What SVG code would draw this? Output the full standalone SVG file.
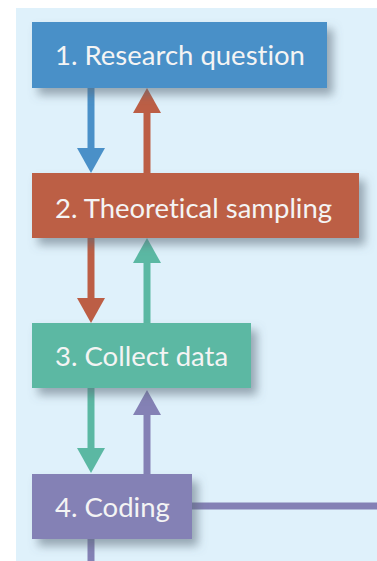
<svg xmlns="http://www.w3.org/2000/svg" width="377" height="561" viewBox="0 0 377 561">
<defs>
<filter id="sh" x="-20%" y="-30%" width="150%" height="180%">
<feDropShadow dx="6" dy="7" stdDeviation="5" flood-color="#5a6a78" flood-opacity="0.55"/>
</filter>
</defs>
<style>
.lbl{font-family:Lato,"Open Sans",sans-serif;font-size:27.5px;fill:#f4f4f4;font-variant-ligatures:none}
.ln{stroke-width:7;fill:none}
</style>
<rect x="0" y="0" width="377" height="561" fill="#ffffff"/>
<rect x="16" y="8" width="361" height="553" fill="#dff1fb"/>
<g id="connectors">
<line class="ln" x1="91" y1="88" x2="91" y2="150" stroke="#4a90c8"/>
<polygon points="77,148 105,148 91,173" fill="#4a90c8"/>
<line class="ln" x1="147" y1="173" x2="147" y2="110" stroke="#bc5e45"/>
<polygon points="133,113 161,113 147,88" fill="#bc5e45"/>
<line class="ln" x1="91" y1="238" x2="91" y2="300" stroke="#bc5e45"/>
<polygon points="77,298 105,298 91,323" fill="#bc5e45"/>
<line class="ln" x1="147" y1="323" x2="147" y2="260" stroke="#5bb8a3"/>
<polygon points="133,263 161,263 147,238" fill="#5bb8a3"/>
<line class="ln" x1="91" y1="388" x2="91" y2="450" stroke="#5bb8a3"/>
<polygon points="77,448 105,448 91,473" fill="#5bb8a3"/>
<line class="ln" x1="147" y1="474" x2="147" y2="412" stroke="#8481b5"/>
<polygon points="133,415 161,415 147,390" fill="#8481b5"/>
<line class="ln" x1="192" y1="506" x2="377" y2="506" stroke="#8481b5"/>
<line class="ln" x1="91" y1="539" x2="91" y2="561" stroke="#8481b5"/>
</g>
<g id="node1">
<rect x="32" y="22" width="295" height="66" fill="#4a90c8" filter="url(#sh)"/>
<text class="lbl" x="55" y="65">1. Research question</text>
</g>
<g id="node2">
<rect x="32" y="173" width="327" height="65" fill="#bc5e45" filter="url(#sh)"/>
<text class="lbl" x="55" y="218">2. Theoretical sampling</text>
</g>
<g id="node3">
<rect x="32" y="323" width="219" height="65" fill="#5bb8a3" filter="url(#sh)"/>
<text class="lbl" x="55" y="366">3. Collect data</text>
</g>
<g id="node4">
<rect x="32" y="474" width="160" height="65" fill="#8481b5" filter="url(#sh)"/>
<text class="lbl" x="55" y="517">4. Coding</text>
</g>
</svg>
